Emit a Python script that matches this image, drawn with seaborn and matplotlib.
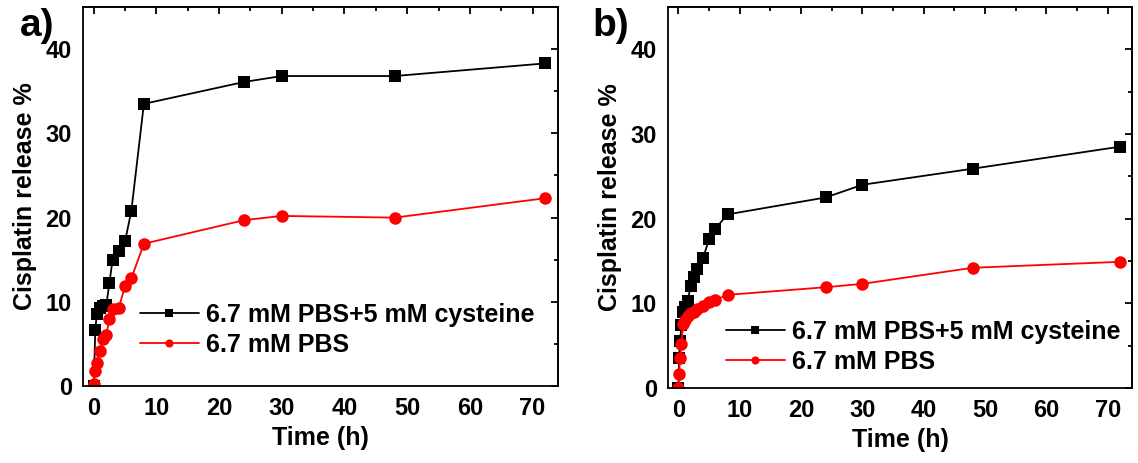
import matplotlib
matplotlib.use("Agg")
import matplotlib.pyplot as plt
import seaborn as sns
import pandas as pd
from matplotlib.ticker import MultipleLocator

# release time points (h)
time_a = [0, 0.25, 0.5, 1, 1.5, 2, 2.5, 3, 4, 5, 6, 8, 24, 30, 48, 72]
cys_a = [0, 6.7, 8.6, 9.3, 9.5, 9.6, 12.2, 15.0, 16.0, 17.2, 20.8, 33.5, 36.1, 36.8, 36.8, 38.3]
pbs_a = [0.3, 1.8, 2.8, 4.2, 5.6, 6.1, 8.0, 9.2, 9.3, 11.9, 12.8, 16.9, 19.7, 20.2, 20.0, 22.3]

time_b = [0, 0.1, 0.25, 0.5, 0.75, 1, 1.5, 2, 2.5, 3, 4, 5, 6, 8, 24, 30, 48, 72]
cys_b = [0, 3.5, 5.5, 7.4, 9.0, 9.6, 10.3, 12.0, 13.1, 14.1, 15.3, 17.6, 18.8, 20.5, 22.5, 24.0, 25.9, 28.5]
pbs_b = [0, 1.6, 3.5, 5.2, 7.5, 8.0, 8.5, 8.9, 9.0, 9.3, 9.7, 10.1, 10.4, 11.0, 11.9, 12.3, 14.2, 14.9]

labels = ["6.7 mM PBS+5 mM cysteine", "6.7 mM PBS"]
panels = ["a)", "b)"]

sns.set_style("white")
plt.rcParams['font.family'] = ['Liberation Sans', 'DejaVu Sans']
plt.rcParams['font.weight'] = 'bold'
plt.rcParams['text.color'] = 'black'
plt.rcParams['axes.labelcolor'] = 'black'
plt.rcParams['xtick.color'] = 'black'
plt.rcParams['ytick.color'] = 'black'

fig = plt.figure(figsize=(11.38, 4.63), dpi=100)
ax_a = fig.add_axes([0.073, 0.166, 0.417, 0.819])
ax_b = fig.add_axes([0.587, 0.162, 0.408, 0.823])

datasets = [(ax_a, time_a, cys_a, pbs_a, (0.12, 0.077), (20, 8)),
            (ax_b, time_b, cys_b, pbs_b, (0.125, 0.037), (592, 8))]

for i, (ax, t, cys, pbs, anchor, lab_px) in enumerate(datasets):
    df = pd.concat([
        pd.DataFrame({"Time": t, "Release": cys, "Condition": labels[0]}),
        pd.DataFrame({"Time": t, "Release": pbs, "Condition": labels[1]}),
    ])
    sns.lineplot(data=df, x="Time", y="Release", hue="Condition", style="Condition",
                 palette=["black", "red"], markers=["s", "o"], dashes=False,
                 markersize=9, markeredgewidth=0, linewidth=1.3, ax=ax, sort=False)
    ax.set_xlim(-1.7, 74)
    ax.set_ylim(0, 45)
    ax.xaxis.set_major_locator(MultipleLocator(10))
    ax.xaxis.set_minor_locator(MultipleLocator(5))
    ax.yaxis.set_major_locator(MultipleLocator(10))
    ax.yaxis.set_minor_locator(MultipleLocator(5))
    ax.tick_params(which='both', direction='out', top=False, right=False,
                   labelsize=17, width=1.3, pad=2)
    ax.tick_params(which='major', length=6)
    ax.tick_params(which='minor', length=3.5)
    for lab in ax.get_xticklabels() + ax.get_yticklabels():
        lab.set_fontweight('bold')
    # mirrored inward ticks on top and right
    sec_x = ax.secondary_xaxis('top')
    sec_x.xaxis.set_major_locator(MultipleLocator(10))
    sec_x.xaxis.set_minor_locator(MultipleLocator(5))
    sec_x.tick_params(which='both', direction='in', labeltop=False, width=1.3)
    sec_x.tick_params(which='major', length=5)
    sec_x.tick_params(which='minor', length=3)
    sec_y = ax.secondary_yaxis('right')
    sec_y.yaxis.set_major_locator(MultipleLocator(10))
    sec_y.yaxis.set_minor_locator(MultipleLocator(5))
    sec_y.tick_params(which='both', direction='in', labelright=False, width=1.3)
    sec_y.tick_params(which='major', length=5)
    sec_y.tick_params(which='minor', length=3)
    for s in ax.spines.values():
        s.set_linewidth(1.3)
        s.set_color("black")
    for sec in (sec_x, sec_y):
        for s in sec.spines.values():
            s.set_linewidth(1.3)
    ax.set_xlabel("Time (h)", fontsize=18, fontweight='bold', labelpad=4)
    ax.set_ylabel("Cisplatin release %", fontsize=18, fontweight='bold', labelpad=6)
    ax.legend(title=None, frameon=False, loc='lower left', bbox_to_anchor=anchor,
              prop={'size': 18, 'weight': 'bold'}, handlelength=2.35,
              borderaxespad=0, borderpad=0, labelspacing=0.23,
              handletextpad=0.3, markerscale=0.65)
    fig.text(lab_px[0] / 1138, 1 - lab_px[1] / 463, panels[i], fontsize=28,
             fontweight='bold', ha='left', va='top')

fig.savefig("out.png", dpi=100)
